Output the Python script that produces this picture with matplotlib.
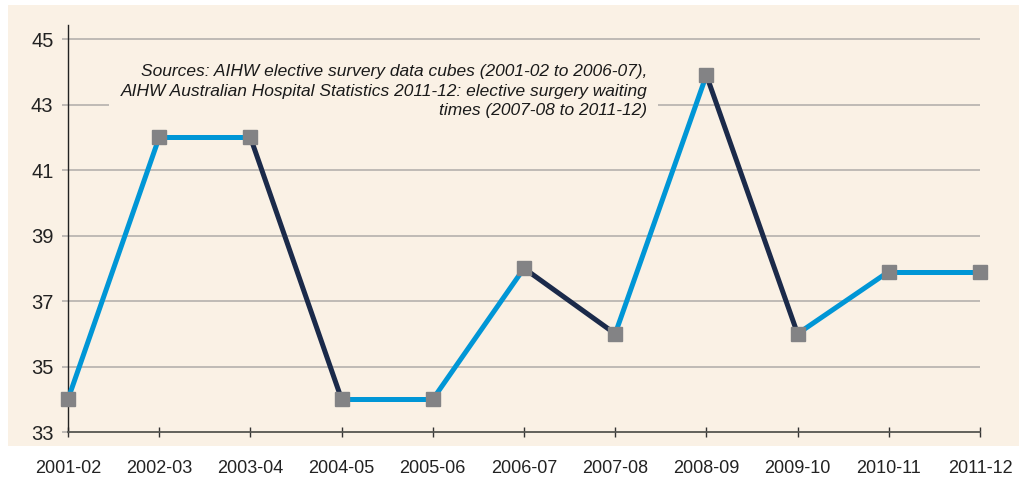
import matplotlib.pyplot as plt
from matplotlib.patches import Rectangle

Years = ["2001-02", "2002-03", "2003-04", "2004-05", "2005-06", "2006-07",
         "2007-08", "2008-09", "2009-10", "2010-11", "2011-12"]
WaitDays = [34, 42, 42, 34, 34, 38, 36, 43.9, 36, 37.9, 37.9]
YTicks = [33, 35, 37, 39, 41, 43, 45]
SourceNote = ("Sources: AIHW elective survery data cubes (2001-02 to 2006-07),\n"
              "AIHW Australian Hospital Statistics 2011-12: elective surgery waiting\n"
              "times (2007-08 to 2011-12)")

Cream = "#faf1e5"
Blue = "#0096d6"
Navy = "#1b2a4a"
Grey = "#838385"

plt.rcParams["font.family"] = ["Liberation Sans", "DejaVu Sans"]

fig = plt.figure(figsize=(10.19, 4.86), dpi=100)
fig.patches.append(Rectangle((8 / 1019, 1 - 446 / 486), 1, 441 / 486,
                             transform=fig.transFigure, facecolor=Cream,
                             edgecolor="none", zorder=-5))

ax = fig.add_axes([68 / 1019, 1 - 432 / 486, 912 / 1019, 407 / 486])
ax.set_facecolor("none")
ax.set_zorder(2)

x = list(range(len(Years)))

# segment colour depends on direction: down is navy, up/flat is blue
for i in range(len(x) - 1):
    colour = Navy if WaitDays[i + 1] < WaitDays[i] else Blue
    ax.plot(x[i:i + 2], WaitDays[i:i + 2], color=colour, lw=3.6,
            solid_capstyle="butt", zorder=3, clip_on=False)

ax.plot(x, WaitDays, linestyle="none", marker="s", markersize=10,
        color=Grey, zorder=4, clip_on=False)

ax.set_xlim(0, len(Years) - 1)
ax.set_ylim(33, 45.43)
ax.set_yticks(YTicks)
ax.set_xticks(x)
ax.set_xticklabels(Years)

for tick in YTicks[1:]:
    ax.axhline(tick, color="#b5b1ad", lw=1.2, zorder=1)

for side in ["top", "right"]:
    ax.spines[side].set_visible(False)
ax.spines["left"].set_color("#222222")
ax.spines["bottom"].set_color("#555550")
ax.spines["left"].set_linewidth(1.0)
ax.spines["bottom"].set_linewidth(1.3)

ax.tick_params(axis="y", length=4.5, width=1.2, color="#b5b1ad",
               labelsize=14.5, pad=6, labelcolor="#222222")
ax.tick_params(axis="x", direction="inout", length=7, width=1.0,
               color="#333333", labelsize=13, pad=17, labelcolor="#222222")

ax.text(6.35, 43.41, SourceNote, ha="right", va="center",
        multialignment="right", style="italic", fontsize=12.5,
        linespacing=1.4, color="#1a1a1a", zorder=2,
        bbox=dict(facecolor=Cream, edgecolor="none", pad=8))

fig.savefig("out.png", dpi=100, facecolor="white")
